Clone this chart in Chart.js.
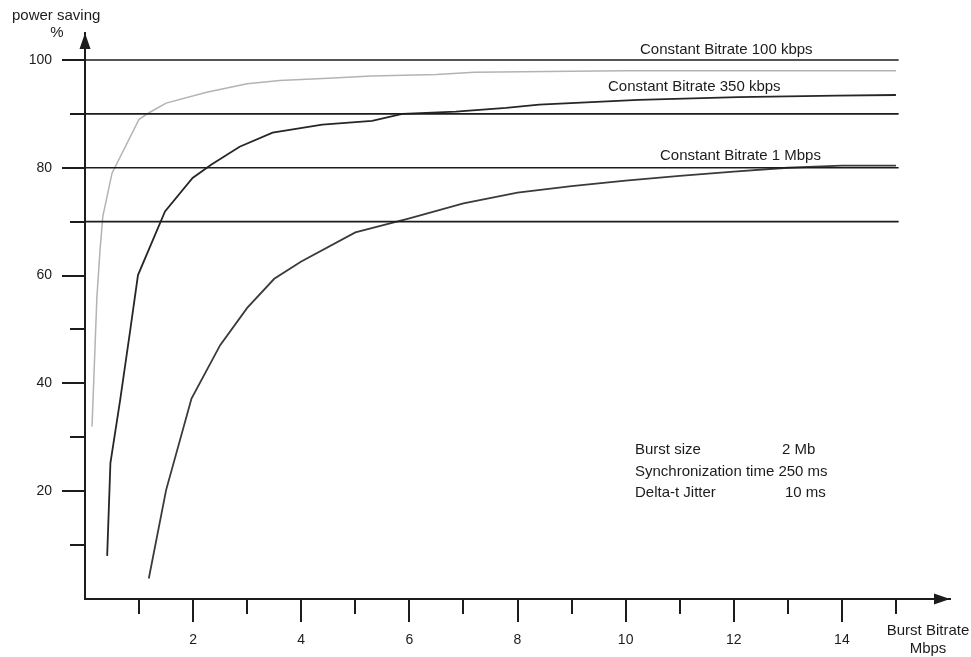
<!DOCTYPE html>
<html><head><meta charset="utf-8">
<style>html,body{margin:0;padding:0;background:#fff;} #wrap{width:971px;height:657px;} canvas{display:block;}</style>
<script src="https://cdn.jsdelivr.net/npm/chart.js@4.4.0/dist/chart.umd.min.js"></script>
</head><body><div id="wrap"><canvas id="c" width="971" height="657"></canvas></div>
<script>
// Burst bitrate (Mbps) and power saving (%)
const xCbr100 = [0.13, 0.22, 0.28, 0.33, 0.5, 1.0, 1.2, 1.5, 2.25, 3.0, 3.6, 4.5, 5.3, 6.5, 7.2, 9.0, 10.0, 15.0];
const yCbr100 = [32, 56, 65, 71, 79, 89, 90.3, 92, 94, 95.6, 96.2, 96.6, 97, 97.3, 97.7, 97.9, 98, 98];
const xCbr350 = [0.41, 0.47, 0.65, 0.83, 0.98, 1.48, 1.99, 2.34, 2.86, 3.47, 4.39, 5.31, 5.87, 6.86, 7.79, 8.4, 10.24, 12.08, 13.9, 15.0];
const yCbr350 = [8.0, 25.2, 36.9, 49.4, 60.1, 71.9, 78.1, 80.6, 83.9, 86.5, 88.0, 88.7, 90.0, 90.4, 91.1, 91.7, 92.6, 93.1, 93.4, 93.5];
const xCbr1M = [1.18, 1.5, 1.97, 2.5, 3.0, 3.5, 4.0, 5.0, 6.0, 7.0, 8.0, 9.0, 10.0, 11.0, 12.0, 13.0, 14.0, 15.0];
const yCbr1M = [3.8, 20.2, 37.2, 47.1, 54.0, 59.4, 62.6, 68.0, 70.6, 73.4, 75.4, 76.6, 77.6, 78.5, 79.3, 80.0, 80.4, 80.4];
const seriesNames = ['Constant Bitrate 100 kbps', 'Constant Bitrate 350 kbps', 'Constant Bitrate 1 Mbps'];
const refLevels = [100, 90, 80, 70];
const refLineEnd = 15.05;
const yTickLabels = [20, 40, 60, 80, 100];
const xTickLabels = [2, 4, 6, 8, 10, 12, 14];
const notes = [['Burst size', '2 Mb'], ['Synchronization time 250 ms', ''], ['Delta-t Jitter', '10 ms']];

const pts = (xs, ys) => xs.map((x, i) => ({x, y: ys[i]}));
const FONT = '"Liberation Sans", Arial, sans-serif';
const INK = '#1c1c1c';

const datasets = refLevels.map(v => ({
  data: [{x: 0, y: v}, {x: refLineEnd, y: v}],
  borderColor: INK, borderWidth: 1.6, pointRadius: 0, showLine: true, tension: 0
}));
datasets.push({label: seriesNames[0], data: pts(xCbr100, yCbr100), borderColor: '#b3b3b3', borderWidth: 1.5, pointRadius: 0, showLine: true, tension: 0});
datasets.push({label: seriesNames[1], data: pts(xCbr350, yCbr350), borderColor: '#262626', borderWidth: 1.8, pointRadius: 0, showLine: true, tension: 0});
datasets.push({label: seriesNames[2], data: pts(xCbr1M, yCbr1M), borderColor: '#3a3a3a', borderWidth: 1.8, pointRadius: 0, showLine: true, tension: 0});

const decor = {
  id: 'decor',
  afterDraw(chart) {
    const ctx = chart.ctx, xs = chart.scales.x, ys = chart.scales.y, a = chart.chartArea;
    ctx.save();
    ctx.strokeStyle = INK; ctx.fillStyle = INK; ctx.lineWidth = 2;
    for (let v = 10; v <= 100; v += 10) {
      const y = Math.round(ys.getPixelForValue(v));
      const len = (v % 20 === 0) ? 23 : 15;
      ctx.beginPath(); ctx.moveTo(a.left - len, y); ctx.lineTo(a.left, y); ctx.stroke();
    }
    for (let v = 1; v <= 15; v++) {
      const x = Math.round(xs.getPixelForValue(v));
      const len = (v % 2 === 0) ? 23 : 15;
      ctx.beginPath(); ctx.moveTo(x, a.bottom); ctx.lineTo(x, a.bottom + len); ctx.stroke();
    }
    ctx.beginPath(); ctx.moveTo(a.left, a.top); ctx.lineTo(a.left - 5.5, a.top + 16); ctx.lineTo(a.left + 5.5, a.top + 16); ctx.closePath(); ctx.fill();
    ctx.beginPath(); ctx.moveTo(a.right, a.bottom); ctx.lineTo(a.right - 16, a.bottom - 5.5); ctx.lineTo(a.right - 16, a.bottom + 5.5); ctx.closePath(); ctx.fill();
    ctx.font = '15px ' + FONT; ctx.textBaseline = 'middle'; ctx.textAlign = 'left';
    ctx.fillText('power saving', 12, 16);
    ctx.textAlign = 'center';
    ctx.fillText('%', 57, 33);
    ctx.fillText('Burst Bitrate', 928, 631);
    ctx.fillText('Mbps', 928, 649);
    ctx.textAlign = 'left';
    ctx.fillText(seriesNames[0], 640, 50);
    ctx.fillText(seriesNames[1], 608, 87);
    ctx.fillText(seriesNames[2], 660, 156);
    const ny = [450, 472, 493], vx = [782, 0, 785];
    notes.forEach((n, i) => {
      ctx.fillText(n[0], 635, ny[i]);
      if (n[1]) ctx.fillText(n[1], vx[i], ny[i]);
    });
    ctx.restore();
  }
};

const hiddenGrid = {display: true, drawOnChartArea: false, drawTicks: true, tickLength: 33, color: 'rgba(0,0,0,0)'};

new Chart(document.getElementById('c'), {
  type: 'scatter',
  data: {datasets},
  options: {
    responsive: false, animation: false, devicePixelRatio: 1,
    layout: {padding: {top: 33, right: 21, left: 0, bottom: 0}},
    plugins: {legend: {display: false}, tooltip: {enabled: false}},
    scales: {
      x: {
        type: 'linear', min: 0, max: 16,
        grid: hiddenGrid,
        border: {display: true, color: INK, width: 2},
        ticks: {stepSize: 1, autoSkip: false, maxRotation: 0, padding: 0, color: INK,
          font: {family: FONT, size: 14},
          callback: v => xTickLabels.includes(v) ? String(v) : ''},
        afterFit: s => { s.height = 58; }
      },
      y: {
        min: 0, max: 105,
        grid: hiddenGrid,
        border: {display: true, color: INK, width: 2},
        ticks: {stepSize: 10, autoSkip: false, padding: 0, color: INK,
          font: {family: FONT, size: 14},
          callback: v => yTickLabels.includes(v) ? String(v) : ''},
        afterFit: s => { s.width = 85; }
      }
    }
  },
  plugins: [decor]
});
</script></body></html>
